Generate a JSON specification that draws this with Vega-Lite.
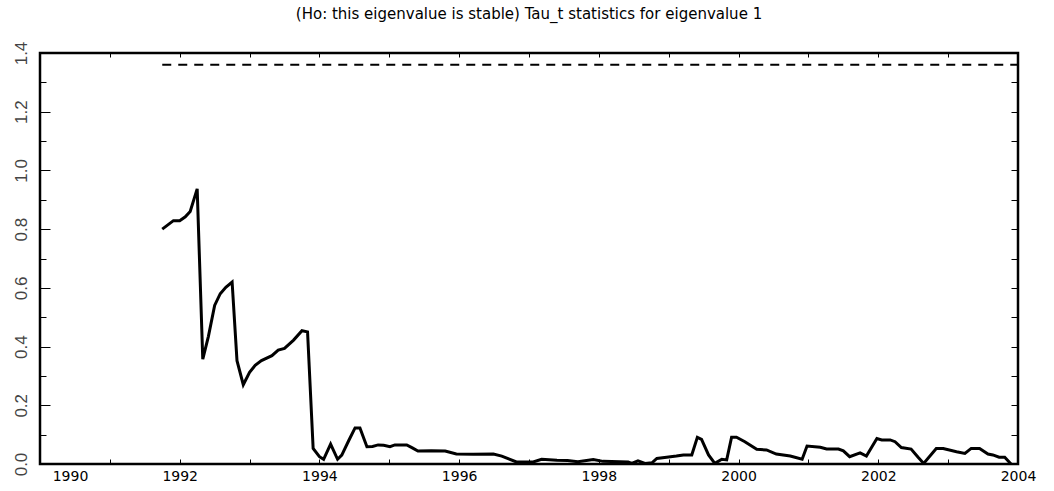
{
  "$schema": "https://vega.github.io/schema/vega-lite/v6.json",
  "width": 978,
  "height": 411,
  "autosize": "none",
  "padding": {"left": 40, "top": 53, "right": 36, "bottom": 27},
  "background": "white",
  "title": {
    "text": "(Ho: this eigenvalue is stable) Tau_t statistics for eigenvalue 1",
    "font": "DejaVu Sans",
    "fontSize": 15,
    "fontWeight": "normal",
    "color": "black",
    "anchor": "middle",
    "frame": "group",
    "baseline": "bottom",
    "offset": 4
  },
  "config": {
    "view": {"stroke": "black", "strokeWidth": 2.5},
    "axis": {"domain": false, "grid": false, "tickColor": "black", "tickWidth": 1}
  },
  "datasets": {
    "tau": [
      {"year": 1991.75, "v": 0.800},
      {"year": 1991.91, "v": 0.829},
      {"year": 1992.00, "v": 0.829},
      {"year": 1992.08, "v": 0.842},
      {"year": 1992.15, "v": 0.860},
      {"year": 1992.25, "v": 0.937},
      {"year": 1992.33, "v": 0.357},
      {"year": 1992.41, "v": 0.434},
      {"year": 1992.50, "v": 0.540},
      {"year": 1992.58, "v": 0.580},
      {"year": 1992.66, "v": 0.602},
      {"year": 1992.75, "v": 0.620},
      {"year": 1992.82, "v": 0.352},
      {"year": 1992.91, "v": 0.270},
      {"year": 1993.00, "v": 0.312},
      {"year": 1993.08, "v": 0.336},
      {"year": 1993.17, "v": 0.352},
      {"year": 1993.32, "v": 0.369},
      {"year": 1993.41, "v": 0.388},
      {"year": 1993.50, "v": 0.394},
      {"year": 1993.63, "v": 0.422},
      {"year": 1993.75, "v": 0.454},
      {"year": 1993.83, "v": 0.450},
      {"year": 1993.91, "v": 0.053},
      {"year": 1994.00, "v": 0.025},
      {"year": 1994.06, "v": 0.016},
      {"year": 1994.16, "v": 0.068},
      {"year": 1994.26, "v": 0.016},
      {"year": 1994.32, "v": 0.030},
      {"year": 1994.42, "v": 0.080},
      {"year": 1994.51, "v": 0.123},
      {"year": 1994.58, "v": 0.123},
      {"year": 1994.68, "v": 0.059},
      {"year": 1994.76, "v": 0.060},
      {"year": 1994.84, "v": 0.065},
      {"year": 1994.92, "v": 0.064},
      {"year": 1995.01, "v": 0.059},
      {"year": 1995.08, "v": 0.065},
      {"year": 1995.25, "v": 0.065},
      {"year": 1995.33, "v": 0.055},
      {"year": 1995.41, "v": 0.044},
      {"year": 1995.60, "v": 0.045},
      {"year": 1995.80, "v": 0.044},
      {"year": 1995.96, "v": 0.034},
      {"year": 1996.20, "v": 0.033},
      {"year": 1996.49, "v": 0.034},
      {"year": 1996.61, "v": 0.027},
      {"year": 1996.82, "v": 0.007},
      {"year": 1997.06, "v": 0.007},
      {"year": 1997.18, "v": 0.016},
      {"year": 1997.40, "v": 0.013},
      {"year": 1997.55, "v": 0.012},
      {"year": 1997.70, "v": 0.008},
      {"year": 1997.92, "v": 0.015},
      {"year": 1998.06, "v": 0.009},
      {"year": 1998.42, "v": 0.007},
      {"year": 1998.47, "v": 0.002},
      {"year": 1998.56, "v": 0.011},
      {"year": 1998.66, "v": 0.002},
      {"year": 1998.76, "v": 0.004},
      {"year": 1998.83, "v": 0.019},
      {"year": 1998.97, "v": 0.023},
      {"year": 1999.11, "v": 0.027},
      {"year": 1999.21, "v": 0.031},
      {"year": 1999.33, "v": 0.031},
      {"year": 1999.41, "v": 0.091},
      {"year": 1999.47, "v": 0.084},
      {"year": 1999.57, "v": 0.031},
      {"year": 1999.66, "v": 0.002},
      {"year": 1999.76, "v": 0.016},
      {"year": 1999.83, "v": 0.014},
      {"year": 1999.90, "v": 0.091},
      {"year": 1999.97, "v": 0.091},
      {"year": 2000.09, "v": 0.076},
      {"year": 2000.26, "v": 0.050},
      {"year": 2000.40, "v": 0.048},
      {"year": 2000.54, "v": 0.034},
      {"year": 2000.74, "v": 0.027},
      {"year": 2000.91, "v": 0.016},
      {"year": 2000.98, "v": 0.061},
      {"year": 2001.17, "v": 0.057},
      {"year": 2001.26, "v": 0.051},
      {"year": 2001.43, "v": 0.051},
      {"year": 2001.50, "v": 0.045},
      {"year": 2001.59, "v": 0.025},
      {"year": 2001.74, "v": 0.038},
      {"year": 2001.83, "v": 0.027},
      {"year": 2001.98, "v": 0.087},
      {"year": 2002.05, "v": 0.082},
      {"year": 2002.17, "v": 0.082},
      {"year": 2002.24, "v": 0.076},
      {"year": 2002.33, "v": 0.056},
      {"year": 2002.47, "v": 0.051},
      {"year": 2002.57, "v": 0.023},
      {"year": 2002.65, "v": 0.002},
      {"year": 2002.83, "v": 0.053},
      {"year": 2002.93, "v": 0.053},
      {"year": 2003.12, "v": 0.042},
      {"year": 2003.24, "v": 0.036},
      {"year": 2003.33, "v": 0.053},
      {"year": 2003.45, "v": 0.053},
      {"year": 2003.57, "v": 0.034},
      {"year": 2003.64, "v": 0.031},
      {"year": 2003.73, "v": 0.023},
      {"year": 2003.81, "v": 0.023},
      {"year": 2003.90, "v": 0.000}
    ],
    "crit": [
      {"year": 1991.75, "v": 1.36},
      {"year": 2004.0, "v": 1.36}
    ]
  },
  "layer": [
    {
      "data": {"name": "tau"},
      "mark": {"type": "line", "color": "black", "strokeWidth": 3, "clip": true},
      "encoding": {
        "x": {
          "field": "year", "type": "quantitative",
          "scale": {"domain": [1990, 2004], "nice": false, "zero": false},
          "axis": {
            "orient": "bottom", "title": null,
            "values": [1990,1991,1992,1993,1994,1995,1996,1997,1998,1999,2000,2001,2002,2003,2004],
            "labelExpr": "datum.value % 2 == 0 ? format(datum.value, 'd') : ''",
            "tickSize": -5,
            "labelPadding": 10,
            "labelFlush": false,
            "labelFont": "DejaVu Sans", "labelFontSize": 14, "labelColor": "black",
            "labelOffset": {"condition": {"test": "datum.value == 1990", "value": 30}, "value": 0}
          }
        },
        "y": {
          "field": "v", "type": "quantitative",
          "scale": {"domain": [0, 1.4], "nice": false},
          "axis": {
            "orient": "left", "title": null,
            "values": [0, 0.2, 0.4, 0.6, 0.8, 1.0, 1.2, 1.4],
            "format": ".1f",
            "tickSize": -10,
            "labelFlush": false,
            "labelAngle": -90, "labelAlign": "center", "labelBaseline": "bottom",
            "labelPadding": 20,
            "labelFont": "Liberation Sans", "labelFontSize": 17, "labelColor": "#444"
          }
        }
      }
    },
    {
      "data": {"name": "crit"},
      "mark": {"type": "line", "color": "black", "strokeWidth": 2, "strokeDash": [9, 7]},
      "encoding": {
        "x": {
          "field": "year", "type": "quantitative",
          "axis": {
            "orient": "top", "title": null, "labels": false,
            "values": [1990,1991,1992,1993,1994,1995,1996,1997,1998,1999,2000,2001,2002,2003,2004],
            "tickSize": -4
          }
        },
        "y": {
          "field": "v", "type": "quantitative",
          "axis": {
            "orient": "right", "title": null, "labels": false,
            "values": [0, 0.1, 0.2, 0.3, 0.4, 0.5, 0.6, 0.7, 0.8, 0.9, 1.0, 1.1, 1.2, 1.3, 1.4],
            "tickSize": -7
          }
        }
      }
    },
    {
      "data": {"name": "crit"},
      "mark": {"type": "line", "strokeOpacity": 0},
      "encoding": {
        "x": {"field": "year", "type": "quantitative", "axis": null},
        "y": {
          "field": "v", "type": "quantitative",
          "axis": {
            "orient": "left", "title": null, "labels": false,
            "values": [0.1, 0.3, 0.5, 0.7, 0.9, 1.1, 1.3],
            "tickSize": -6
          }
        }
      }
    }
  ],
  "resolve": {"axis": {"x": "independent", "y": "independent"}}
}
